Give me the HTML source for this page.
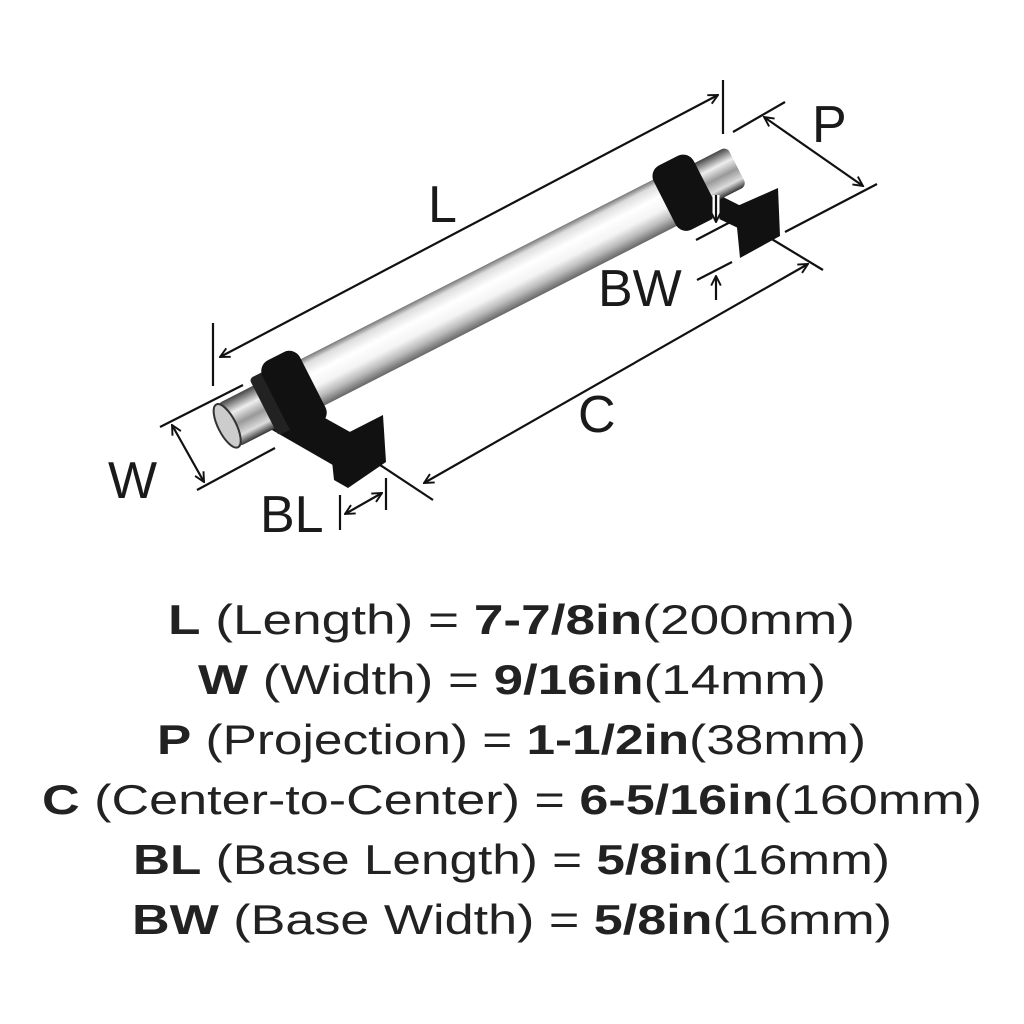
<!DOCTYPE html>
<html><head><meta charset="utf-8"><style>
html,body{margin:0;padding:0;background:#fff;}
svg{display:block;font-family:"Liberation Sans",sans-serif;}
</style></head><body>
<svg width="1024" height="1024" viewBox="0 0 1024 1024" xmlns="http://www.w3.org/2000/svg">
<defs>
<linearGradient id="rod" x1="0" y1="0" x2="0" y2="1">
<stop offset="0" stop-color="#777"/><stop offset="0.12" stop-color="#ddd"/><stop offset="0.35" stop-color="#fff"/><stop offset="0.6" stop-color="#f4f4f4"/><stop offset="0.8" stop-color="#bbb"/><stop offset="1" stop-color="#666"/>
</linearGradient>
<linearGradient id="chrome" x1="0" y1="0" x2="0" y2="1">
<stop offset="0" stop-color="#444"/><stop offset="0.3" stop-color="#eee"/><stop offset="0.55" stop-color="#999"/><stop offset="0.8" stop-color="#ddd"/><stop offset="1" stop-color="#333"/>
</linearGradient>
<marker id="ah" viewBox="0 0 10 10" refX="9" refY="5" markerWidth="12" markerHeight="12" markerUnits="userSpaceOnUse" orient="auto-start-reverse">
<path d="M1,1 L9,5 L1,9" fill="none" stroke="#111" stroke-width="1.6"/>
</marker>
</defs>

<!-- posts (behind) -->
<polygon points="272,430 298,403 368,442 345,472" fill="#111"/>
<polygon points="690,205 705,188 745,208 738,228" fill="#111"/>
<g transform="translate(482,296) rotate(-27)">
<rect x="-200" y="-26" width="420" height="52" fill="url(#rod)"/>
<rect x="-286" y="-24" width="55" height="48" rx="6" fill="url(#chrome)"/>
<ellipse cx="-286" cy="0" rx="9" ry="24" fill="#ccc" stroke="#333" stroke-width="2"/>
<rect x="-245" y="-32" width="20" height="64" rx="4" fill="#222"/>
<rect x="-232" y="-40" width="42" height="80" rx="12" fill="#111"/>
<rect x="245" y="-22" width="41" height="44" rx="6" fill="url(#chrome)"/>
<rect x="205" y="-36" width="45" height="72" rx="12" fill="#111"/>
</g>
<!-- base plates -->
<polygon points="330,442 383,415 386,462 348,488 334,480" fill="#111"/>
<polygon points="735,207 778,188 780,236 740,258" fill="#111"/>

<g stroke="#111" stroke-width="2.2" fill="none">
<line x1="213" y1="323" x2="213" y2="386"/>
<line x1="723" y1="80" x2="723" y2="134"/>
<line x1="220" y1="357" x2="718" y2="95" marker-start="url(#ah)" marker-end="url(#ah)"/>
<line x1="733" y1="132" x2="785" y2="102"/>
<line x1="785" y1="232" x2="877" y2="184"/>
<line x1="764" y1="117" x2="863" y2="186" marker-start="url(#ah)" marker-end="url(#ah)"/>
<line x1="160" y1="427" x2="243" y2="385"/>
<line x1="197" y1="490" x2="275" y2="448"/>
<line x1="172" y1="425" x2="204" y2="482" marker-start="url(#ah)" marker-end="url(#ah)"/>
<line x1="340" y1="495" x2="340" y2="530"/>
<line x1="386" y1="478" x2="386" y2="510"/>
<line x1="345" y1="514" x2="382" y2="493" marker-start="url(#ah)" marker-end="url(#ah)"/>
<line x1="365" y1="455" x2="433" y2="500"/>
<line x1="770" y1="238" x2="823" y2="270"/>
<line x1="424" y1="483" x2="808" y2="264" marker-start="url(#ah)" marker-end="url(#ah)"/>
<line x1="696" y1="240" x2="738" y2="218"/>
<line x1="697" y1="280" x2="732" y2="262"/>
<line x1="716" y1="300" x2="716" y2="276" marker-end="url(#ah)"/>
</g>
<line x1="716" y1="195" x2="716" y2="222" stroke="#fff" stroke-width="7"/>
<line x1="716" y1="195" x2="716" y2="222" stroke="#111" stroke-width="2.2" marker-end="url(#ah)"/>
<g fill="#1a1a1a" font-size="52">
<text x="428" y="222">L</text>
<text x="812" y="142">P</text>
<text x="108" y="498">W</text>
<text x="260" y="532">BL</text>
<text x="598" y="306">BW</text>
<text x="578" y="432">C</text>
</g>

<g fill="#222" font-size="42">
<text x="168" y="634" textLength="687" lengthAdjust="spacingAndGlyphs"><tspan font-weight="bold">L</tspan> (Length) = <tspan font-weight="bold">7-7/8in</tspan>(200mm)</text>
<text x="198" y="694" textLength="628" lengthAdjust="spacingAndGlyphs"><tspan font-weight="bold">W</tspan> (Width) = <tspan font-weight="bold">9/16in</tspan>(14mm)</text>
<text x="157" y="754" textLength="709" lengthAdjust="spacingAndGlyphs"><tspan font-weight="bold">P</tspan> (Projection) = <tspan font-weight="bold">1-1/2in</tspan>(38mm)</text>
<text x="42" y="814" textLength="940" lengthAdjust="spacingAndGlyphs"><tspan font-weight="bold">C</tspan> (Center-to-Center) = <tspan font-weight="bold">6-5/16in</tspan>(160mm)</text>
<text x="133" y="874" textLength="757" lengthAdjust="spacingAndGlyphs"><tspan font-weight="bold">BL</tspan> (Base Length) = <tspan font-weight="bold">5/8in</tspan>(16mm)</text>
<text x="132" y="934" textLength="760" lengthAdjust="spacingAndGlyphs"><tspan font-weight="bold">BW</tspan> (Base Width) = <tspan font-weight="bold">5/8in</tspan>(16mm)</text>
</g>
</svg>
</body></html>
